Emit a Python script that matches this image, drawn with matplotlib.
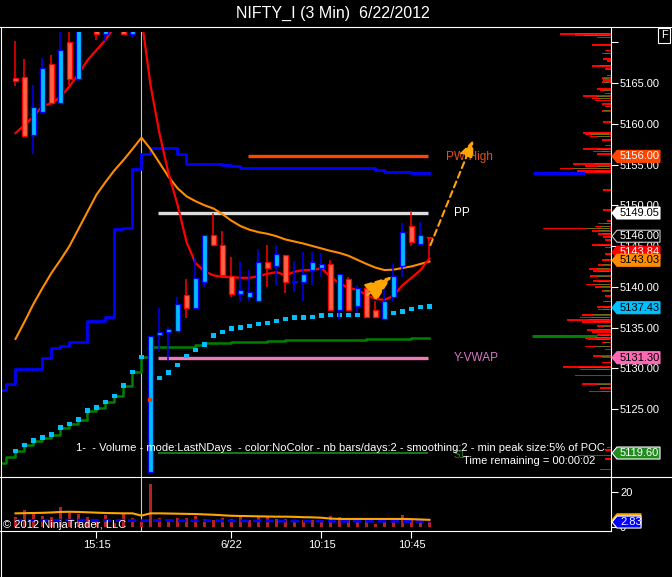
#!/usr/bin/env python3

"""
plot.py    |    NIFTY_I 3-min chart, 6/22/2012 (NinjaTrader style)
"""

# %% load libraries
import matplotlib
matplotlib.use('Agg')
import numpy as np
import matplotlib.pyplot as plt
import matplotlib.transforms as mtransforms
from matplotlib.patches import Polygon
from matplotlib.lines import Line2D


# %% data

# bars: index 0..14 previous session, 15..46 session of 6/22
bar_open = [5165.6, 5165.7, 5158.6, 5161.5, 5167.3, 5162.6, 5170.0, 5165.5,
            5172.5, 5172.0, 5171.0, 5173.0, 5172.0, 5171.0, 5172.3,
            5117.3, 5134.1, 5134.5, 5134.6, 5138.95, 5137.4, 5140.55, 5146.4,
            5145.1, 5141.35, 5139.1, 5138.7, 5138.3, 5143.0, 5142.5, 5143.9,
            5140.6, 5140.55, 5142.05, 5142.3, 5142.8, 5137.1, 5141.0, 5137.6,
            5139.8, 5137.1, 5136.1, 5138.8, 5142.55, 5147.45, 5145.3, 5146.1]
bar_high = [5170.1, 5167.9, 5164.75, 5168.1, 5168.4, 5171.8, 5172.5, 5172.5,
            5174.0, 5172.5, 5173.0, 5173.5, 5172.5, 5172.5, 5173.5,
            5134.0, 5137.35, 5135.1, 5138.8, 5140.95, 5143.5, 5146.4, 5149.0,
            5146.8, 5143.7, 5143.1, 5142.05, 5144.6, 5145.1, 5145.1, 5143.9,
            5143.1, 5144.3, 5144.3, 5144.1, 5143.3, 5141.6, 5141.2, 5140.2,
            5140.4, 5138.2, 5139.8, 5142.8, 5147.8, 5149.3, 5148.0, 5146.1]
bar_low = [5164.6, 5158.5, 5156.3, 5161.5, 5162.5, 5162.6, 5164.75, 5165.2,
           5171.8, 5170.3, 5170.1, 5171.5, 5171.0, 5170.55, 5171.6,
           5117.3, 5132.0, 5131.0, 5134.6, 5136.2, 5137.4, 5140.0, 5145.1,
           5141.5, 5138.8, 5138.2, 5138.2, 5138.3, 5140.0, 5140.2, 5139.2,
           5139.4, 5138.2, 5140.2, 5141.2, 5137.2, 5136.1, 5137.2, 5136.8,
           5136.3, 5136.3, 5136.1, 5138.2, 5141.2, 5145.0, 5145.3, 5143.7]
bar_close = [5165.3, 5158.5, 5162.0, 5166.8, 5162.5, 5169.0, 5165.45, 5172.0,
             5173.5, 5171.0, 5172.5, 5172.5, 5171.0, 5172.0, 5173.0,
             5133.9, 5134.4, 5134.8, 5137.9, 5137.35, 5141.1, 5146.4, 5145.1,
             5141.5, 5139.1, 5139.6, 5139.3, 5143.0, 5142.3, 5144.0, 5140.55,
             5140.7, 5141.6, 5143.0, 5142.8, 5137.2, 5141.6, 5137.2, 5139.8,
             5136.3, 5136.3, 5138.2, 5141.3, 5146.75, 5145.45, 5146.4, 5146.0]

# fast average (red) and slow average (orange)
ma_fast = [5158.85, 5159.85, 5160.9, 5162.2, 5162.5, 5163.3, 5164.6, 5166.1,
           5167.8, 5169.05, 5170.3, 5171.9, 5172.5, 5173.0, 5173.0,
           5164.75, 5158.8, 5153.9, 5150.1, 5145.5, 5142.9, 5141.9, 5141.4,
           5141.2, 5141.2, 5141.1, 5141.1, 5141.3, 5141.6, 5141.8, 5141.4,
           5141.85, 5142.05, 5142.05, 5142.3, 5141.2, 5140.45, 5139.85, 5139.6,
           5139.0, 5138.5, 5138.4, 5138.9, 5140.2, 5141.1, 5142.05, 5143.5]
ma_slow = [5133.6, 5135.7, 5137.9, 5139.85, 5141.7, 5143.3, 5145.0, 5147.1,
           5149.2, 5151.3, 5152.85, 5154.3, 5155.55, 5156.9, 5158.3,
           5156.9, 5155.2, 5153.5, 5152.1, 5151.1, 5150.5, 5150.0, 5149.6,
           5148.9, 5148.1, 5147.45, 5147.0, 5146.7, 5146.5, 5146.2, 5145.8,
           5145.55, 5145.3, 5145.0, 5144.7, 5144.4, 5144.15, 5143.8, 5143.3,
           5142.8, 5142.35, 5142.05, 5142.1, 5142.3, 5142.5, 5142.8, 5143.1]

# step lines, index -2..46
blue_step = [5127.3, 5128.1, 5129.9, 5129.9, 5129.9, 5131.2, 5132.45, 5132.7,
             5133.2, 5133.2, 5135.8, 5135.8, 5136.25, 5147.1, 5147.2, 5154.5,
             5156.3, 5157.05, 5157.05, 5157.05, 5156.3, 5155.05, 5155.05,
             5155.05, 5155.05, 5155.0, 5154.8, 5154.6, 5154.6, 5154.6, 5154.6,
             5154.6, 5154.6, 5154.6, 5154.6, 5154.6, 5154.6, 5154.6, 5154.6,
             5154.6, 5154.6, 5154.6, 5154.3, 5154.1, 5154.1, 5154.1, 5154.0,
             5154.0, 5154.0]
green_step = [5118.4, 5119.15, 5119.85, 5120.6, 5121.1, 5121.5, 5121.85,
              5122.7, 5123.15, 5123.7, 5124.8, 5125.15, 5125.85, 5126.6,
              5127.85, 5129.55, 5131.4, 5132.6, 5132.6, 5132.6, 5132.6, 5132.6,
              5132.85, 5133.05, 5133.05, 5133.05, 5133.25, 5133.25, 5133.25,
              5133.25, 5133.4, 5133.4, 5133.45, 5133.45, 5133.45, 5133.45,
              5133.45, 5133.45, 5133.45, 5133.45, 5133.45, 5133.6, 5133.6,
              5133.6, 5133.6, 5133.6, 5133.75, 5133.75, 5133.75]

# dotted indicator, index 0..46
dots = [5119.85, 5120.6, 5121.1, 5121.5, 5121.85, 5122.7, 5123.15, 5123.7,
        5124.8, 5125.15, 5125.85, 5126.6, 5127.85, 5129.55, 5131.4,
        5126.15, 5128.8, 5129.45, 5130.4, 5131.5, 5132.25, 5132.95, 5134.0,
        5134.45, 5134.85, 5135.0, 5135.2, 5135.45, 5135.55, 5135.8, 5136.05,
        5136.2, 5136.2, 5136.3, 5136.45, 5136.55, 5136.55, 5136.55, 5136.55,
        5136.75, 5136.75, 5136.75, 5136.8, 5136.95, 5137.25, 5137.5, 5137.55]
dots_hot = [15]

# volume panel
volume = [5.9, 9.7, 8.2, 6.3, 5.5, 11.3, 8.2, 7.4, 5.9, 4.4, 6.9, 2.5, 7.4,
          5.0, 3.0, 24.6, 5.0, 4.0, 5.0, 5.0, 6.3, 4.4, 4.0, 5.0, 4.4, 5.5,
          4.0, 5.5, 5.5, 4.4, 4.4, 3.6, 4.0, 4.0, 3.0, 6.3, 5.5, 4.0, 4.0,
          4.0, 1.7, 4.0, 4.0, 6.9, 4.0, 3.0, 2.83]
vol_avg = [7.8, 7.9, 8.0, 8.1, 8.3, 8.6, 8.7, 8.6, 8.4, 8.2, 8.0, 7.9, 7.8,
           7.8, 6.5, 7.8, 7.8, 7.7, 7.6, 7.5, 7.4, 7.2, 7.0, 6.7, 6.4, 6.3,
           6.2, 6.1, 6.0, 5.9, 5.9, 5.8, 5.6, 5.5, 5.3, 4.8, 4.6, 4.6, 4.6,
           4.6, 4.6, 4.6, 4.6, 4.6, 4.5, 4.3, 4.1]
vol_base = [3.8, 3.8, 3.8, 3.8, 3.8, 3.9, 3.9, 3.9, 3.9, 3.8, 3.8, 3.7, 3.7,
            3.7, 3.6, 3.7, 3.7, 3.7, 3.6, 3.6, 3.6, 3.6, 3.6, 3.5, 3.5, 3.5,
            3.5, 3.5, 3.5, 3.4, 3.4, 3.4, 3.4, 3.4, 3.4, 3.3, 3.3, 3.3, 3.3,
            3.3, 3.3, 3.3, 3.3, 3.2, 3.2, 3.2, 3.2]

# volume profile (price, volume, previous-days volume)
profile_price = [5171.05, 5170.85, 5170.6, 5169.7, 5169.0, 5168.6, 5167.95,
                 5167.7, 5167.1, 5166.7, 5165.9, 5165.6, 5165.4, 5165.1,
                 5164.3, 5164.1, 5163.7, 5163.4, 5163.1, 5162.85, 5162.4,
                 5162.1, 5161.6, 5160.2, 5158.85, 5158.7, 5158.45, 5158.0,
                 5157.35, 5156.9, 5156.6, 5156.3, 5155.1, 5154.8, 5154.5,
                 5154.2, 5154.0, 5151.9, 5149.4, 5148.1, 5147.75, 5147.4,
                 5147.15, 5146.85, 5146.5, 5146.1, 5145.7, 5145.1, 5144.8,
                 5144.05, 5143.3, 5142.7, 5142.2, 5141.9, 5141.3, 5140.7,
                 5140.3, 5140.0, 5139.5, 5138.9, 5138.2, 5137.5, 5137.2,
                 5136.55, 5136.25, 5135.95, 5135.7, 5135.15, 5134.7, 5134.45,
                 5134.05, 5133.75, 5133.55, 5133.15, 5132.65, 5132.3, 5131.5,
                 5131.3, 5130.7, 5130.15, 5129.85, 5129.1, 5128.05, 5127.55,
                 5127.15, 5120.3, 5120.0, 5119.3, 5118.9, 5117.6]
profile_vol = [51, 36, 14, 19, 6, 9, 8, 4, 19, 6, 4, 9, 8, 9, 14, 11, 6, 28,
               19, 16, 9, 6, 9, 8, 28, 26, 21, 9, 6, 28, 18, 14, 38, 26, 51,
               34, 26, 8, 8, 4, 13, 16, 68, 19, 13, 8, 6, 19, 6, 6, 9, 13, 22,
               18, 21, 18, 25, 16, 9, 6, 8, 14, 13, 29, 31, 44, 29, 14, 24, 19,
               14, 26, 23, 9, 26, 6, 18, 9, 9, 48, 31, 36, 29, 11, 22, 4, 6,
               33, 6, 11]
profile_prev = [34, 25, 0, 0, 0, 4, 0, 0, 10, 0, 0, 5, 0, 5, 0, 6, 0, 12, 10,
                0, 0, 0, 5, 0, 20, 18, 12, 0, 0, 12, 8, 0, 15, 12, 36, 15, 0,
                0, 0, 0, 5, 8, 23, 10, 6, 0, 0, 10, 0, 0, 4, 6, 12, 10, 12, 10,
                14, 8, 5, 0, 4, 6, 6, 16, 18, 20, 16, 6, 12, 10, 8, 14, 12, 4,
                14, 0, 8, 0, 0, 30, 14, 0, 12, 0, 8, 0, 0, 0, 0, 0]

# horizontal levels: (name, price, first bar, last bar, colour)
levels = [('PW-High', 5156.00, 25.8, 45.85, '#FF4500'),
          ('PP', 5149.05, 15.85, 45.85, '#DCDCDC'),
          ('Y-VWAP', 5131.30, 15.85, 45.85, '#F078B8'),
          ('S1', 5119.60, 15.85, 45.85, '#1E8C1E')]

# projection arrows: (from bar, from price, to bar, to price)
arrows = [(46.1, 5145.1, 50.86, 5158.0),
          (39.1, 5139.0, 41.85, 5141.3)]

# time axis
tick_pos = [9, 24, 34, 44]
tick_lab = ['15:15', '6/22', '10:15', '10:45']
price_ticks = [5125, 5130, 5135, 5140, 5145, 5150, 5155, 5160, 5165, 5170]
session_break = 14


# %% figure
plt.rcParams['font.family'] = ['Liberation Sans', 'DejaVu Sans']
W, H = 672, 577
fig = plt.figure(figsize=(W / 100, H / 100), dpi=100, facecolor='black')


def fx(px):
    return px / W


def fy(py):
    return 1 - py / H


ax = fig.add_axes([fx(2), fy(476.5), fx(611) - fx(2), fy(31.5) - fy(476.5)])
axv = fig.add_axes([fx(2), fy(531), fx(611) - fx(2), fy(477.5) - fy(531)])
for a in (ax, axv):
    a.set_facecolor('black')
    for s in a.spines.values():
        s.set_visible(False)
    a.set_xlim(-1.5, 66.17)
ax.set_ylim(5116.72, 5171.32)
axv.set_ylim(-2.29, 28.29)

x = np.arange(len(bar_open))
xs = np.arange(-2, len(bar_open))
xr = ax.get_xlim()[1]

# --+ session break
for a in (ax, axv):
    a.axvline(session_break, color='#C8C8C8', lw=0.8, zorder=1)

# --+ step lines and dots
ax.plot(xs, blue_step, drawstyle='steps-post', color='#0000FF', lw=2.0,
        zorder=2)
ax.plot(xs, green_step, drawstyle='steps-post', color='#008000', lw=1.8,
        zorder=2)
dot_col = ['#FF3300' if i in dots_hot else '#00BFFF' for i in x]
ax.scatter(x, dots, marker='s', s=11, c=dot_col, lw=0, zorder=3)

# --+ level extensions on the right
ax.plot([57.45, 63.3], [blue_step[-1]] * 2, color='#0000FF', lw=2.2,
        solid_capstyle='butt', zorder=2)
ax.plot([57.35, 64.6], [green_step[-1] + 0.2] * 2, color='#008000', lw=2.2,
        solid_capstyle='butt', zorder=2)

# --+ volume profile
pv = np.array(profile_vol) / 9
pp = np.array(profile_prev) / 9
ax.barh(profile_price, pv, left=xr - pv, height=0.2, color='#FF0000', lw=0,
        zorder=3)
ax.barh(profile_price, pp, left=xr - pp - 0.2, height=0.12, color='#6E6A1C',
        lw=0, zorder=3)

# --+ levels
for name, lv, x0, x1, col in levels:
    lw = 1.2 if name == 'S1' else 2.4
    ax.plot([x0, x1], [lv, lv], color=col, lw=lw, solid_capstyle='butt',
            zorder=2)
ax.text(47.8, 5155.9, 'PW-High', color='#E8501A', fontsize=8.5,
        va='center', ha='left')
ax.text(48.7, 5149.05, 'PP', color='white', fontsize=8.5, va='center',
        ha='left')
ax.text(48.7, 5131.2, 'Y-VWAP', color='#D878C8', fontsize=8.5, va='center',
        ha='left')
ax.text(48.7, 5119.3, 'S1', color='#1E8C1E', fontsize=7, va='center',
        ha='left')

# --+ averages
ax.plot(x, ma_slow, color='#FF8C00', lw=1.5, zorder=4)
ax.plot(x, ma_fast, color='#FF0000', lw=1.6, zorder=4)

# --+ candles
up = np.array(bar_close) >= np.array(bar_open)
edge = np.where(up, '#0000FF', '#FF0000')
fill = np.where(up, '#00BFFF', '#FF6347')
ax.vlines(x, bar_low, bar_high, colors=edge, lw=1.1, zorder=5)
body_lo = np.minimum(bar_open, bar_close)
body_h = np.maximum(np.abs(np.array(bar_close) - np.array(bar_open)), 0.08)
ax.bar(x, body_h, bottom=body_lo, width=0.5, color=fill, edgecolor=edge,
       lw=0.9, zorder=6)
ax.scatter(x[dots_hot], np.array(dots)[dots_hot], marker='s', s=11,
           c='#FF3300', lw=0, zorder=7)

# --+ arrows
for (a0, p0, a1, p1), (hl, hw) in zip(arrows, [(1.0, 0.42), (1.7, 0.65)]):
    ax.annotate('', xy=(a1, p1), xytext=(a0, p0),
                arrowprops=dict(arrowstyle='-|>,head_length=%s,head_width=%s'
                                % (hl, hw), color='#FFA500', lw=1.5,
                                ls=(0, (3, 2)), shrinkA=0, shrinkB=0),
                zorder=8)

# --+ volume panel
axv.bar(x, volume, width=0.33, color='#B22222', lw=0, zorder=2)
axv.plot(x, vol_base, color='#0000FF', lw=2.0, ls=(0, (3, 1.5)), zorder=3)
axv.plot(x, vol_avg, color='#FFA500', lw=1.5, zorder=4)

# --+ axes
ax.yaxis.tick_right()
ax.set_yticks(price_ticks)
ax.set_yticklabels(['%.2f' % p if p < 5170 else '' for p in price_ticks])
ax.set_xticks([])
axv.yaxis.tick_right()
axv.set_yticks([0, 20])
axv.set_yticklabels(['0', '20'])
axv.set_xticks(tick_pos)
axv.set_xticklabels(tick_lab)
for a in (ax, axv):
    a.tick_params(axis='both', direction='out', length=5, width=0.8,
                  color='white', labelcolor='white', labelsize=8, pad=1.5)

# --+ frame lines (pixel coords)
frame = [((0, 27), (672, 27)), ((0, 477), (672, 477)), ((0, 531), (611, 531)),
         ((1, 27), (1, 577)), ((611, 27), (611, 531))]
for (x0, y0), (x1, y1) in frame:
    fig.add_artist(Line2D([fx(x0), fx(x1)], [fy(y0), fy(y1)], color='white',
                          lw=0.8))

# --+ price tags on the axis
ident = mtransforms.IdentityTransform()
ntag = [0]


def tag(axis, value, label, face, color, width=43, edgecol=None):
    xp = axis.transAxes.transform((1, 0))[0]
    yp = axis.transData.transform((0, value))[1]
    h = 6
    verts = [(xp + 1, yp), (xp + 6, yp + h), (xp + 6 + width, yp + h),
             (xp + 6 + width, yp - h), (xp + 6, yp - h)]
    z = 10 + 2 * ntag[0]
    ntag[0] += 1
    fig.add_artist(Polygon(verts, closed=True, facecolor=face,
                           edgecolor=edgecol or face, lw=0.8,
                           transform=ident, zorder=z))
    fig.text(xp + 9, yp, label, color=color, fontsize=8, va='center',
             ha='left', transform=ident, zorder=z + 1)


tag(ax, 5144.25, '5143.84', '#FF0000', 'white')
tag(ax, bar_close[-1] + 0.2, '%.2f' % bar_close[-1], 'black', 'white',
    edgecol='#C8C8C8')
tag(ax, ma_slow[-1] + 0.15, '5143.03', '#FF8C00', 'black')
tag(ax, 5149.05, '5149.05', 'white', 'black')
tag(ax, 5156.00, '5156.00', '#FF4500', 'white')
tag(ax, 5137.43, '5137.43', '#00BFFF', 'black')
tag(ax, 5131.30, '5131.30', '#FF69B4', 'black')
tag(ax, 5119.60, '5119.60', '#228B22', 'white', edgecol='white')
tag(axv, vol_avg[-1], '', '#FFA500', 'black', width=24)
tag(axv, volume[-1], '%.2f' % volume[-1], '#0000FF', 'white', width=24,
    edgecol='white')

# --+ texts
fig.text(fx(333), fy(13), 'NIFTY_I (3 Min)  6/22/2012', color='white',
         fontsize=11.5, ha='center', va='center')
fig.text(fx(605), fy(448), '1-  - Volume - mode:LastNDays  - color:NoColor'
         ' - nb bars/days:2 - smoothing:2 - min peak size:5% of POC',
         color='white', fontsize=8, ha='right', va='center')
fig.text(fx(595), fy(461.5), 'Time remaining = 00:00:02', color='white',
         fontsize=8, ha='right', va='center')
fig.text(fx(3), fy(525), '\u00a9 2012 NinjaTrader, LLC', color='white',
         fontsize=8, ha='left', va='center')
fig.text(fx(664), fy(35.5), 'F', color='white', fontsize=8, ha='center',
         va='center', bbox=dict(boxstyle='square,pad=0.2', fc='black',
                                ec='white', lw=0.8))

# --+ save plot
plt.savefig('out.png', dpi=100, facecolor='black')
